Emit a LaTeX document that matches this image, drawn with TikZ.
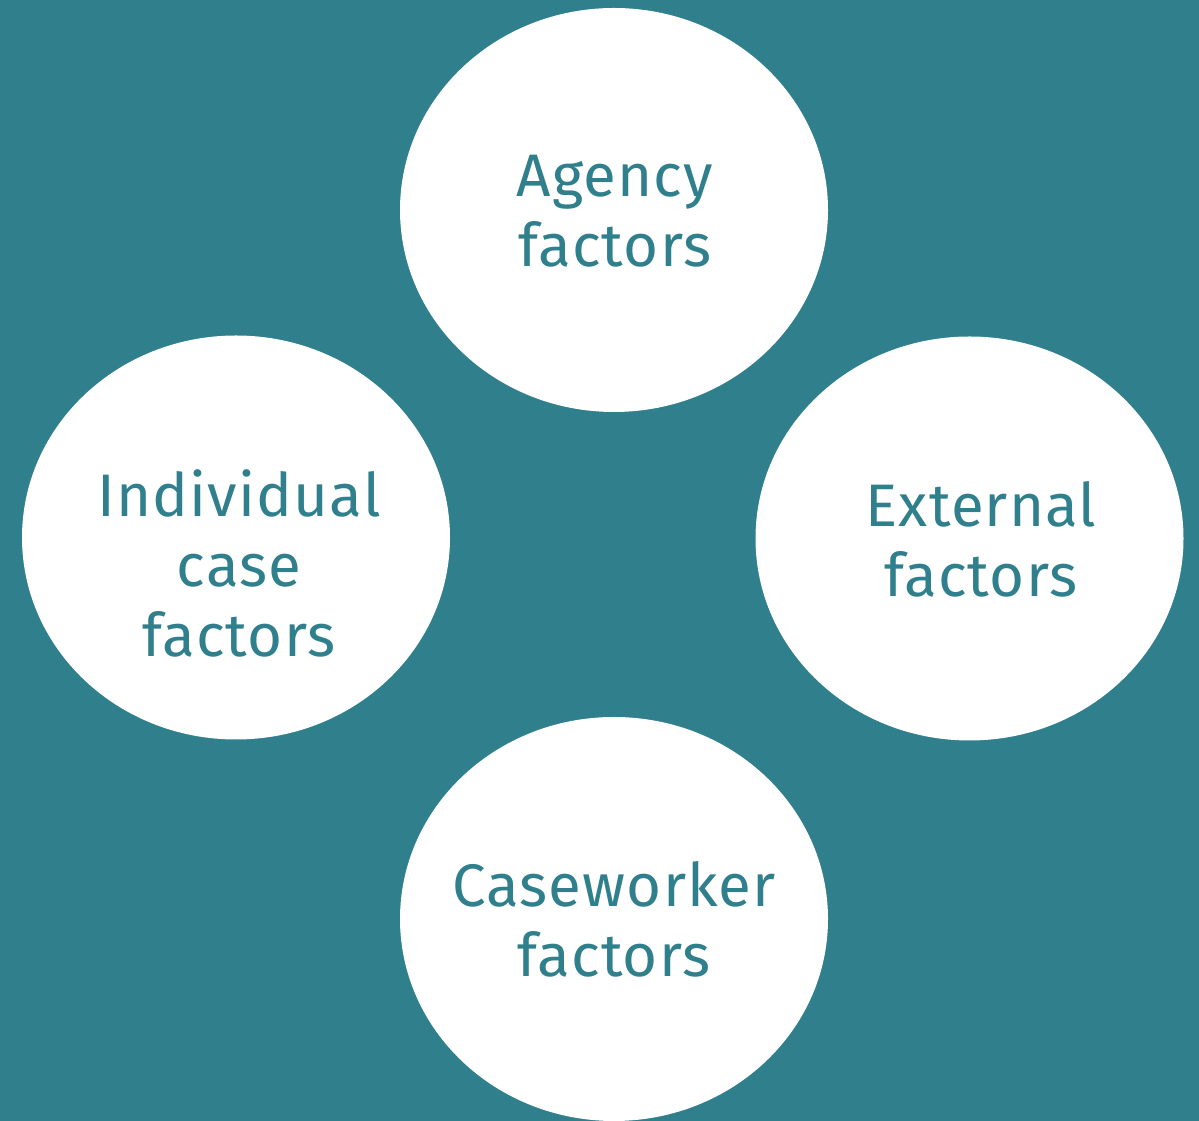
\documentclass[tikz,border=0pt]{standalone}
\usepackage{fontspec}
\setmainfont{Fira Sans}[LetterSpace=2]
\definecolor{teal}{HTML}{2F7F8C}
\begin{document}
\begin{tikzpicture}[x=1pt,y=1pt,
  blob/.style={ellipse, fill=white, minimum width=428pt, minimum height=404pt, inner sep=0pt},
  lbl/.style={text=teal, align=center, font=\fontsize{60}{70}\selectfont, inner sep=0pt}]
\usetikzlibrary{shapes.geometric}
\fill[teal] (0,0) rectangle (1199,1121);
\useasboundingbox (0,0) rectangle (1199,1121);
\node[blob] (agency) at (614,911) {};
\node[blob] (indiv) at (236,583.5) {};
\node[blob] (ext) at (969.5,582.5) {};
\node[blob] (case) at (614,202) {};
\node[lbl] (tagency) at (615,910) {Agency\\factors};
\node[lbl] (tindiv) at (239,558) {Individual\\case\\factors};
\node[lbl] (text) at (981,582) {External\\factors};
\node[lbl] (tcase) at (614,202) {Caseworker\\factors};
\end{tikzpicture}
\end{document}
